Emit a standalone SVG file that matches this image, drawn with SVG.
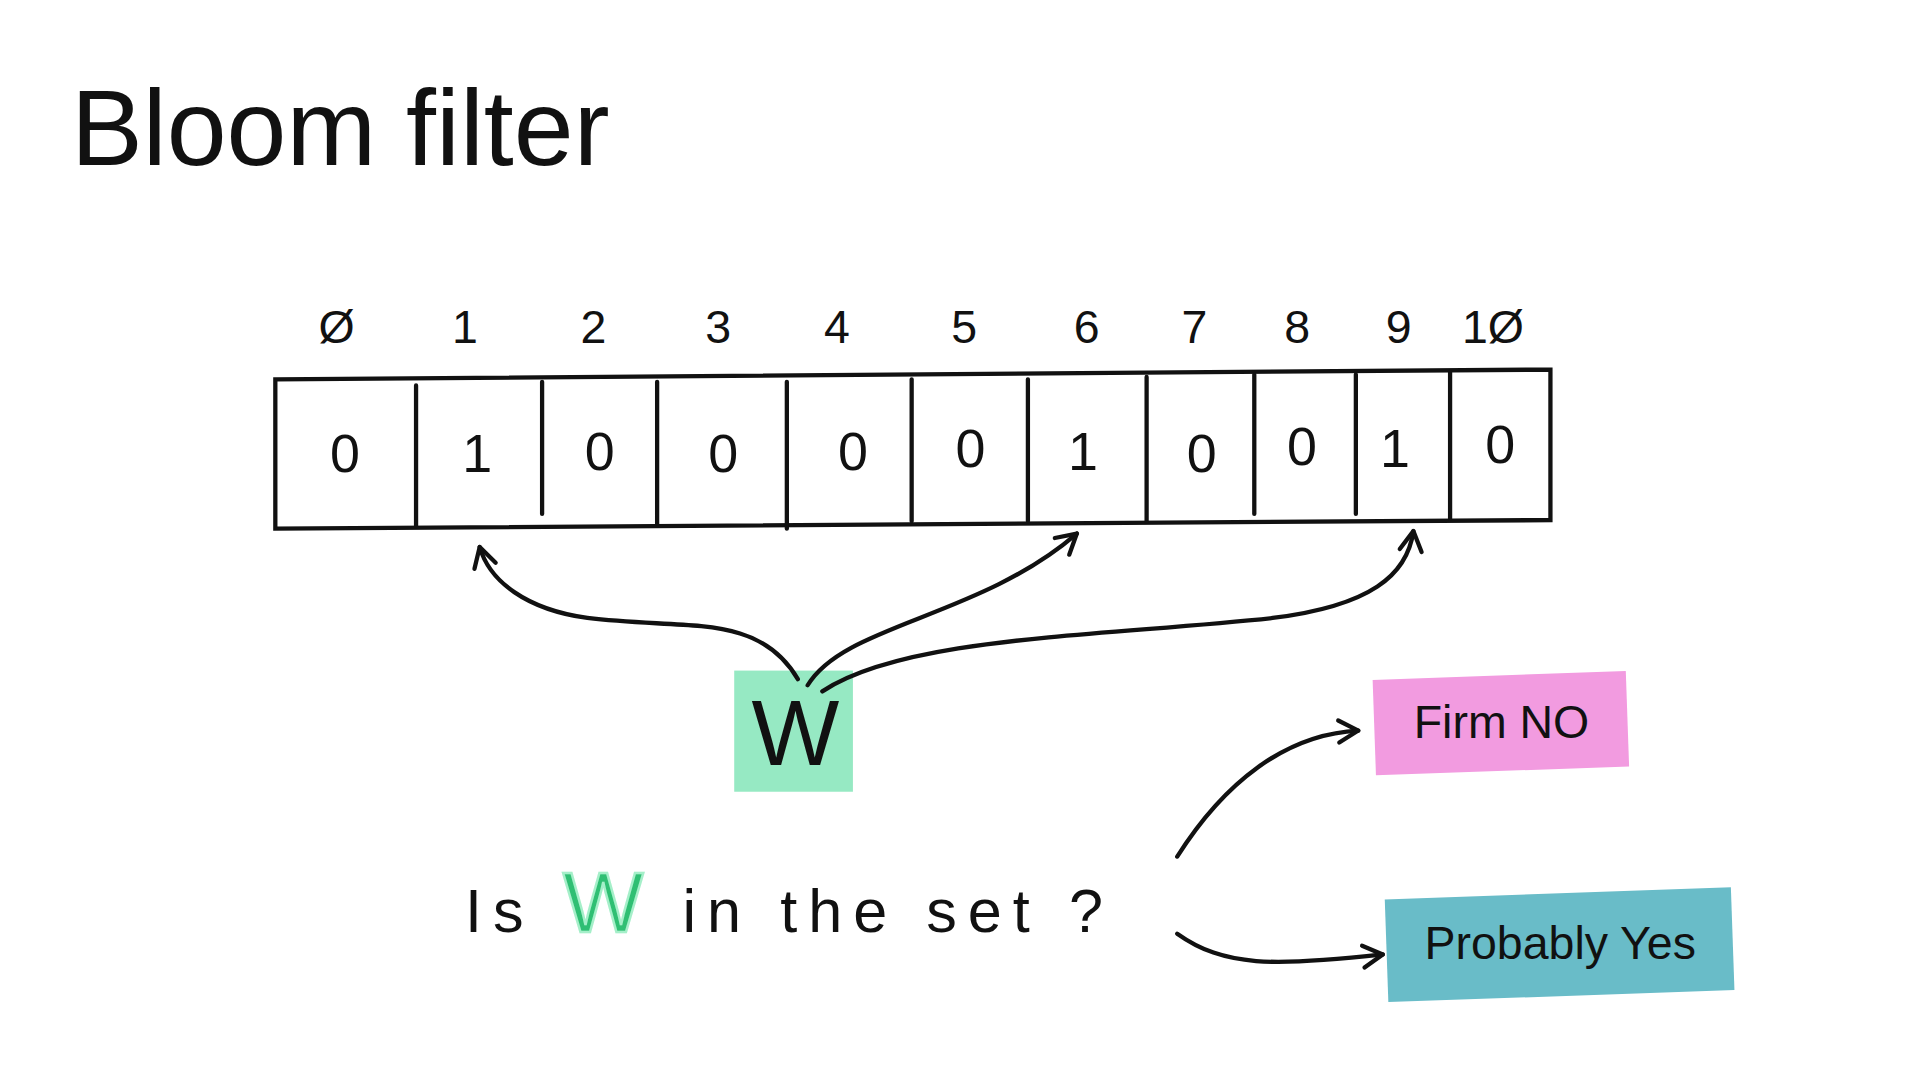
<svg xmlns="http://www.w3.org/2000/svg" width="1920" height="1080" viewBox="0 0 1920 1080">
<defs>
<style>
text{font-family:"Liberation Sans",Arial,sans-serif;fill:#111}
.n{font-size:38px;text-anchor:middle}
.v{font-size:44px;text-anchor:middle}
.ln{fill:none;stroke:#111;stroke-width:3.5;stroke-linecap:round}
.c{fill:none;stroke:#111;stroke-width:3.5;stroke-linecap:round;marker-end:url(#ah)}
</style>
<marker id="ah" viewBox="0 0 24 24" refX="20" refY="12" markerWidth="24" markerHeight="24" orient="auto" markerUnits="userSpaceOnUse">
<path d="M4,3 L20,12 L4,21" fill="none" stroke="#111" stroke-width="3.5" stroke-linecap="round" stroke-linejoin="round"/>
</marker>
</defs>
<rect width="1920" height="1080" fill="#fff"/>
<g transform="scale(1.2237)">
<g id="title"><text x="58" y="135" font-size="88">Bloom filter</text></g>
<g id="indices">
<text class="n" x="275" y="280">Ø</text><text class="n" x="380" y="280">1</text><text class="n" x="485" y="280">2</text><text class="n" x="587" y="280">3</text><text class="n" x="684" y="280">4</text><text class="n" x="788" y="280">5</text><text class="n" x="888" y="280">6</text><text class="n" x="976" y="280">7</text><text class="n" x="1060" y="280">8</text><text class="n" x="1143" y="280">9</text><text class="n" x="1220" y="280">1Ø</text>
</g>
<g id="array">
<path class="ln" d="M225,310 L1267,302 L1267,425 L225,432 Z"/>
<path class="ln" d="M340,315 V430 M443,312 V420 M537,312 V428 M643,312 V432 M745,310 V426 M840,310 V426 M937,308 V426 M1025,306 V420 M1108,306 V420 M1185,304 V424"/>
<text class="v" x="282" y="386">0</text><text class="v" x="390" y="386">1</text><text class="v" x="490" y="384">0</text><text class="v" x="591" y="386">0</text><text class="v" x="697" y="384">0</text><text class="v" x="793" y="382">0</text><text class="v" x="885" y="384">1</text><text class="v" x="982" y="386">0</text><text class="v" x="1064" y="380">0</text><text class="v" x="1140" y="382">1</text><text class="v" x="1226" y="378">0</text>
</g>
<g id="w">
<rect x="600" y="548" width="97" height="99" fill="#96e9c3"/>
<text x="650" y="625" font-size="76" text-anchor="middle">W</text>
</g>
<g id="firm-no">
<rect x="1123" y="552" width="207" height="78" fill="#f29be0" transform="rotate(-2 1226 591)"/>
<text x="1227" y="603" font-size="38" text-anchor="middle">Firm NO</text>
</g>
<g id="probably-yes">
<rect x="1133" y="730" width="283" height="84" fill="#69bcc8" transform="rotate(-2 1275 772)"/>
<text x="1275" y="784" font-size="38" text-anchor="middle">Probably Yes</text>
</g>
<g id="question">
<text x="380" y="762" font-size="50" letter-spacing="9">Is <tspan fill="#2fbf73" font-size="70" stroke="#a5efc9" stroke-width="2">W</tspan> in the set ?</text>
</g>
<g id="connectors">
<path class="c" d="M652,555 C620,500 560,515 480,505 C430,498 400,475 392,447"/>
<path class="c" d="M660,560 C690,510 800,505 880,436"/>
<path class="c" d="M672,565 C740,520 900,520 1040,505 C1120,495 1150,470 1155,434"/>
<path class="c" d="M962,700 C1000,640 1050,600 1110,597"/>
<path class="c" d="M962,763 C1000,790 1040,790 1130,780"/>
</g>
</g>
</svg>
